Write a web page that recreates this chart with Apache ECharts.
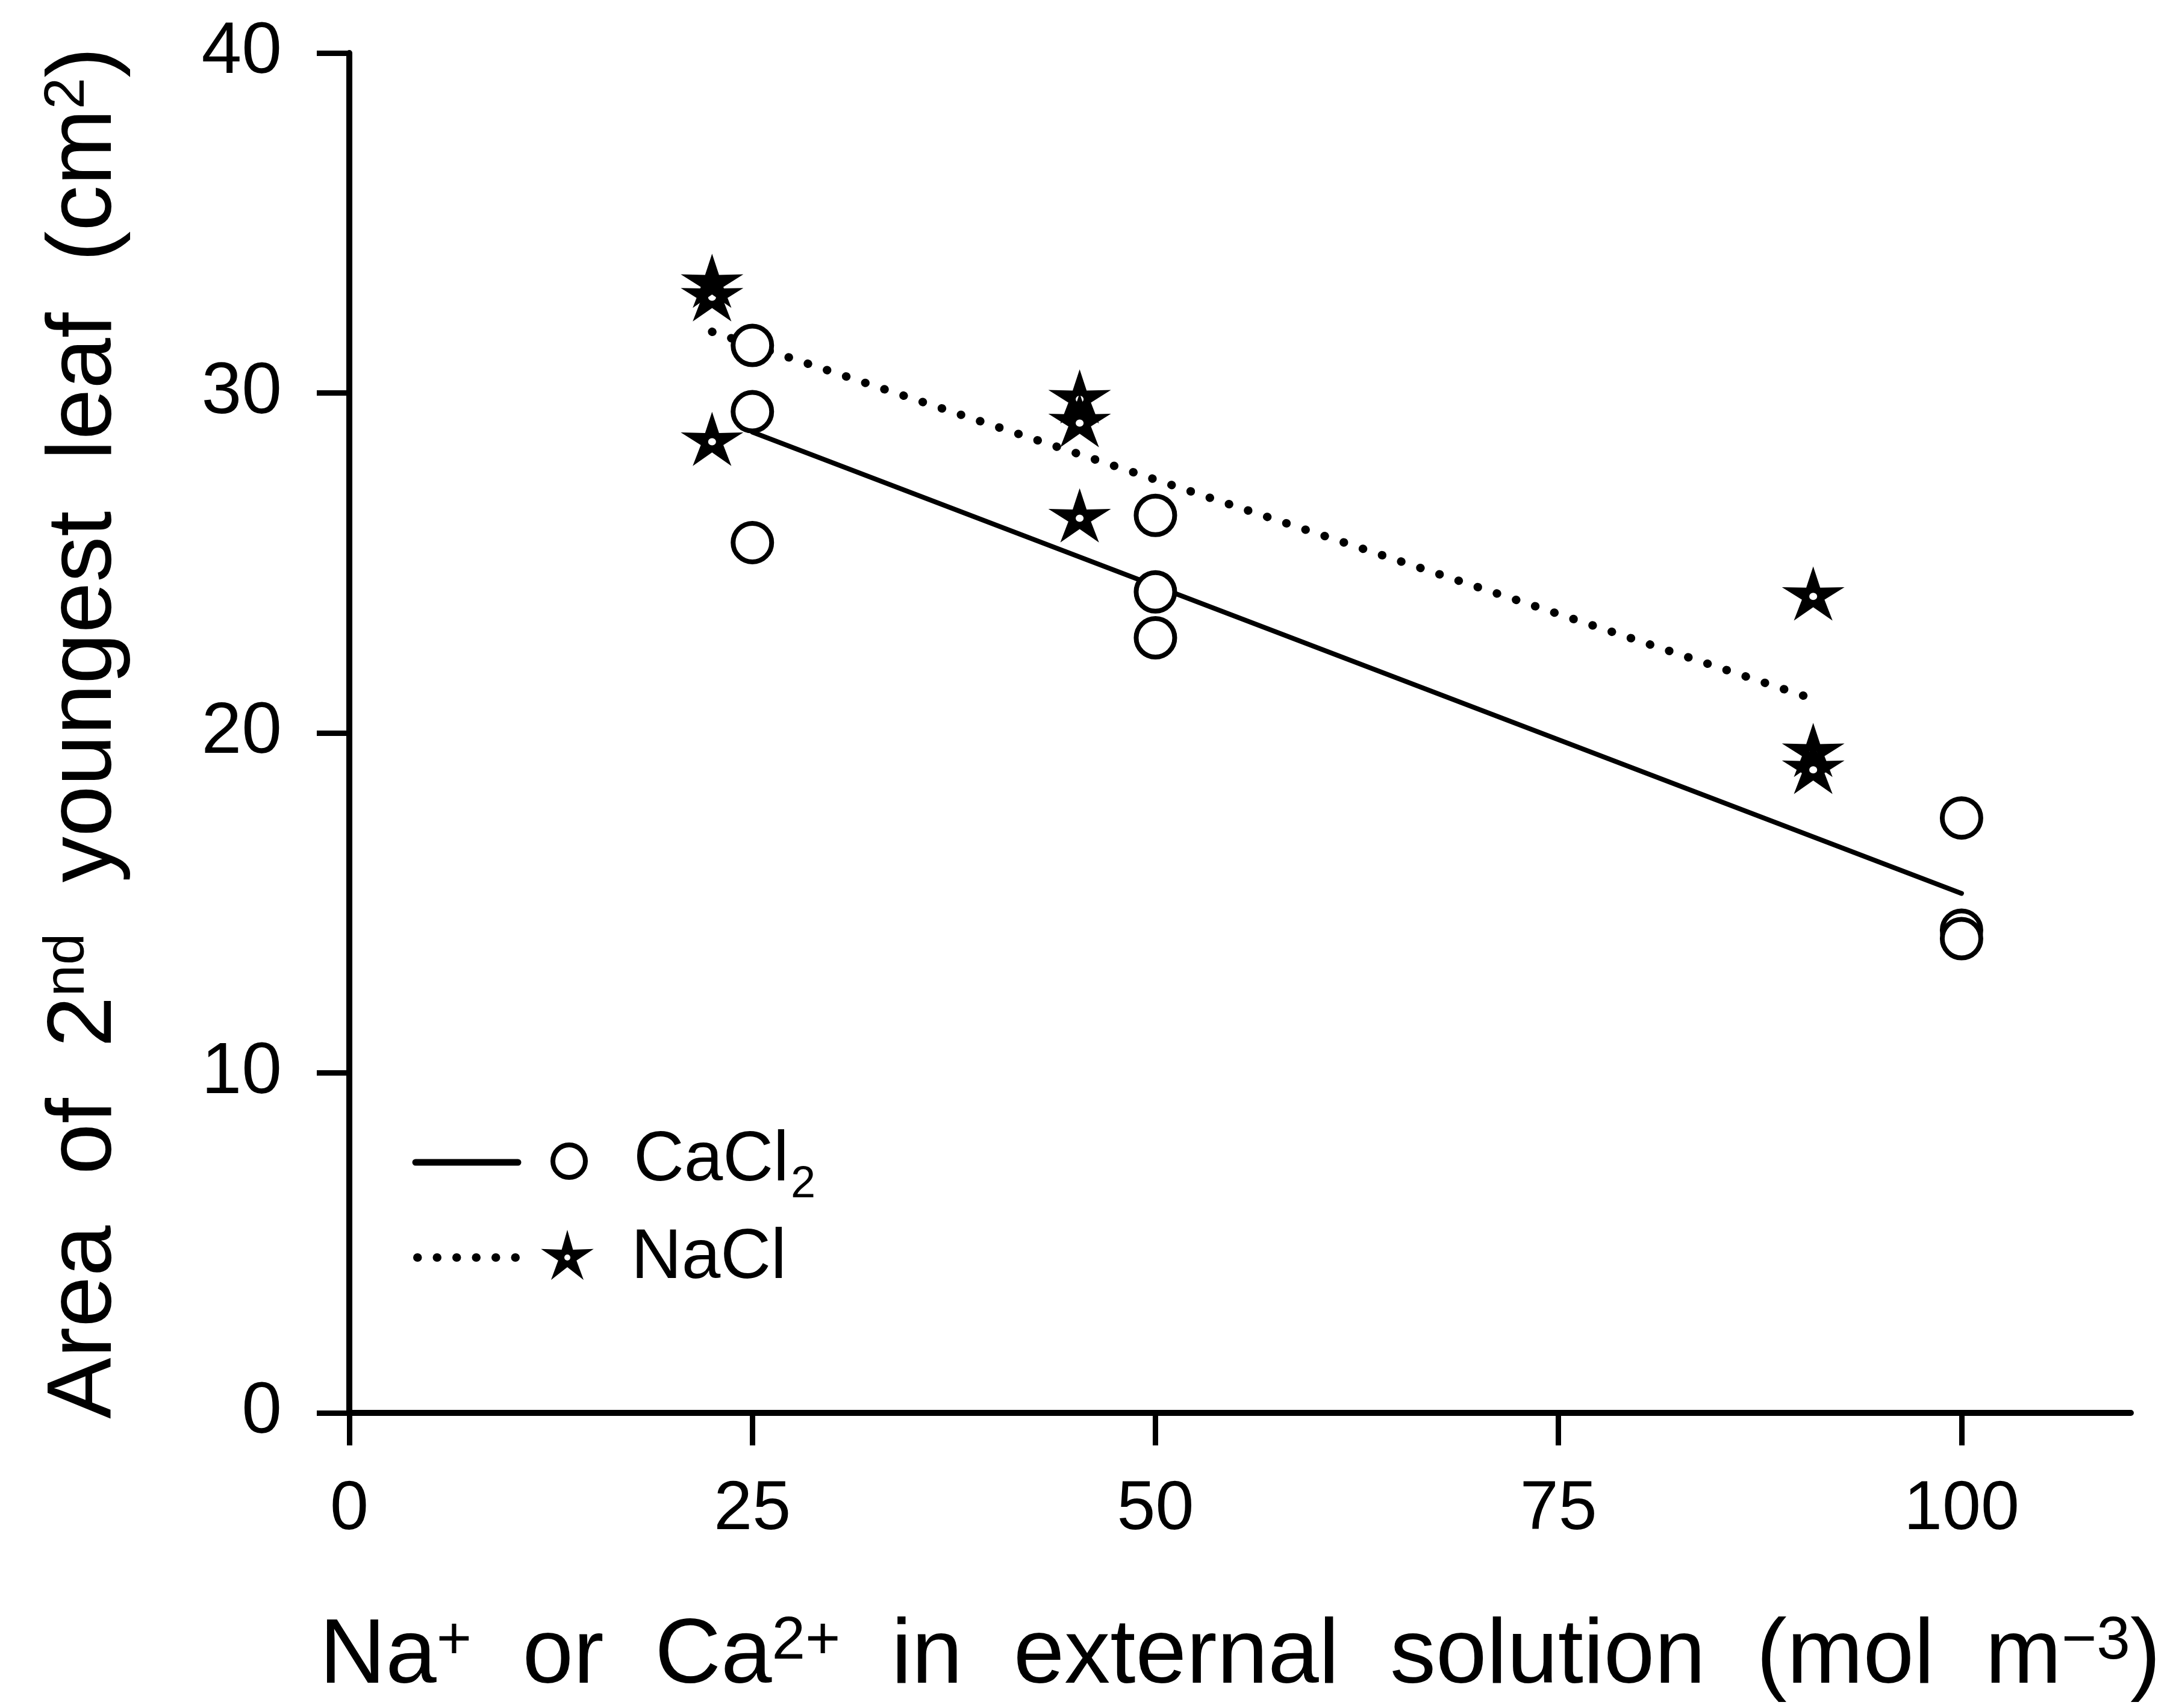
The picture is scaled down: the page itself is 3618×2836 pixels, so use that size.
<!DOCTYPE html>
<html>
<head>
<meta charset="utf-8">
<script src="https://cdn.jsdelivr.net/npm/echarts@6/dist/echarts.min.js"></script>
<style>
html,body{margin:0;padding:0;background:#fff;}
#chart{width:3618px;height:2836px;}
</style>
</head>
<body>
<div id="chart"></div>
<script>
// ---- data ----
const caX = [25, 25, 25, 50, 50, 50, 100, 100, 100];
const caY = [31.4, 29.45, 25.6, 26.4, 24.15, 22.8, 17.5, 14.2, 13.95];
const naX = [22.5, 22.5, 22.5, 45.3, 45.3, 45.3, 90.8, 90.8, 90.8];
const naY = [33.3, 32.9, 28.65, 29.9, 29.2, 26.4, 24.1, 19.5, 19.0];
// fitted lines as drawn (end points)
const caFitX = [25, 100];
const caFitY = [28.85, 15.28];
const naFitX = [22.5, 90.8];
const naFitY = [31.8, 21.0];
// ticks
const xTicks = [0, 25, 50, 75, 100];
const yTicks = [0, 10, 20, 30, 40];
const seriesNames = ['CaCl2', 'NaCl'];

const FONT = "'Liberation Sans', Arial, Helvetica, sans-serif";
const STAR = 'path://M50 0 L60.58 35.44 L97.55 34.55 L67.12 55.56 L79.39 90.45 L50 68 L20.61 90.45 L32.88 55.56 L2.45 34.55 L39.42 35.44 Z M56 50 A6 6 0 1 0 44 50 A6 6 0 1 0 56 50 Z';

const zip = (xs, ys) => xs.map((x, i) => [x, ys[i]]);

// legend star as polygon (style helper, not data)
function starPoints(cx, cy, R, r) {
  const pts = [];
  for (let k = 0; k < 10; k++) {
    const a = (-90 + k * 36) * Math.PI / 180;
    const rad = k % 2 === 0 ? R : r;
    pts.push([cx + rad * Math.cos(a), cy + rad * Math.sin(a)]);
  }
  return pts;
}

const chart = echarts.init(document.getElementById('chart'), null, {renderer: 'canvas'});

const option = {
  backgroundColor: '#fff',
  animation: false,
  grid: {left: 580, right: 80, top: 88, bottom: 490, containLabel: false},
  xAxis: {
    type: 'value', min: 0, max: 110.5, interval: 25,
    splitLine: {show: false},
    axisLine: {show: true, onZero: false, lineStyle: {color: '#000', width: 10, cap: 'round'}},
    axisTick: {show: true, length: 54, customValues: xTicks, lineStyle: {color: '#000', width: 9}},
    axisLabel: {show: true, customValues: xTicks, margin: 104, fontSize: 115, fontFamily: FONT, color: '#000'},
    name: 'Na{sup|+}  or  Ca{sup|2+}  in  external  solution  (mol  m{sup|−3})',
    nameLocation: 'middle', nameGap: 330,
    nameTextStyle: {fontSize: 152, fontFamily: FONT, color: '#000',
      rich: {sup: {fontSize: 100, fontFamily: FONT, color: '#000', verticalAlign: 'top', lineHeight: 100}}}
  },
  yAxis: {
    type: 'value', min: 0, max: 40, interval: 10,
    splitLine: {show: false},
    axisLine: {show: true, onZero: false, lineStyle: {color: '#000', width: 10, cap: 'round'}},
    axisTick: {show: true, length: 54, customValues: yTicks, lineStyle: {color: '#000', width: 9}},
    axisLabel: {show: true, customValues: yTicks, margin: 112, fontSize: 120, fontFamily: FONT, color: '#000'},
    name: 'Area  of  2{sup|nd}  youngest  leaf  (cm{sup|2})',
    nameLocation: 'middle', nameRotate: 90, nameGap: 362,
    nameTextStyle: {fontSize: 152, fontFamily: FONT, color: '#000',
      rich: {sup: {fontSize: 94, fontFamily: FONT, color: '#000', verticalAlign: 'top', lineHeight: 94}}}
  },
  series: [
    {
      name: seriesNames[0] + ' fit', type: 'line', data: zip(caFitX, caFitY),
      showSymbol: false, symbol: 'none', silent: true, z: 2,
      lineStyle: {color: '#000', width: 8, cap: 'round', opacity: 1}
    },
    {
      name: seriesNames[1] + ' fit', type: 'line', data: zip(naFitX, naFitY),
      showSymbol: false, symbol: 'none', silent: true, z: 2,
      lineStyle: {color: '#000', width: 14, cap: 'round', type: [0.5, 33], opacity: 1}
    },
    {
      name: seriesNames[0], type: 'scatter', data: zip(caX, caY), z: 3,
      symbol: 'circle', symbolSize: 64,
      itemStyle: {color: '#fff', borderColor: '#000', borderWidth: 8, opacity: 1}
    },
    {
      name: seriesNames[1], type: 'scatter', data: zip(naX, naY), z: 4,
      symbol: STAR, symbolSize: [104, 90],
      itemStyle: {color: '#000', borderWidth: 0, opacity: 1}
    }
  ],
  graphic: [
    // legend: CaCl2
    {type: 'line', shape: {x1: 690, y1: 1930, x2: 860, y2: 1930}, style: {stroke: '#000', lineWidth: 11, lineCap: 'round'}},
    {type: 'circle', shape: {cx: 945, cy: 1928, r: 27}, style: {fill: '#fff', stroke: '#000', lineWidth: 8}},
    {type: 'text', x: 1052, y: 1928, style: {text: 'CaCl', font: '116px ' + FONT, fill: '#000', verticalAlign: 'middle'}},
    {type: 'text', x: 1313, y: 1968, style: {text: '2', font: '74px ' + FONT, fill: '#000', verticalAlign: 'middle'}},
    // legend: NaCl
    {type: 'line', shape: {x1: 693, y1: 2088, x2: 860, y2: 2088}, style: {stroke: '#000', lineWidth: 14, lineCap: 'round', lineDash: [0.5, 32]}},
    {type: 'polygon', shape: {points: starPoints(942, 2088, 46, 16)}, style: {fill: '#000'}},
    {type: 'circle', shape: {cx: 942, cy: 2088, r: 5}, style: {fill: '#fff'}},
    {type: 'text', x: 1048, y: 2090, style: {text: 'NaCl', font: '116px ' + FONT, fill: '#000', verticalAlign: 'middle'}}
  ]
};
chart.setOption(option);
</script>
</body>
</html>
